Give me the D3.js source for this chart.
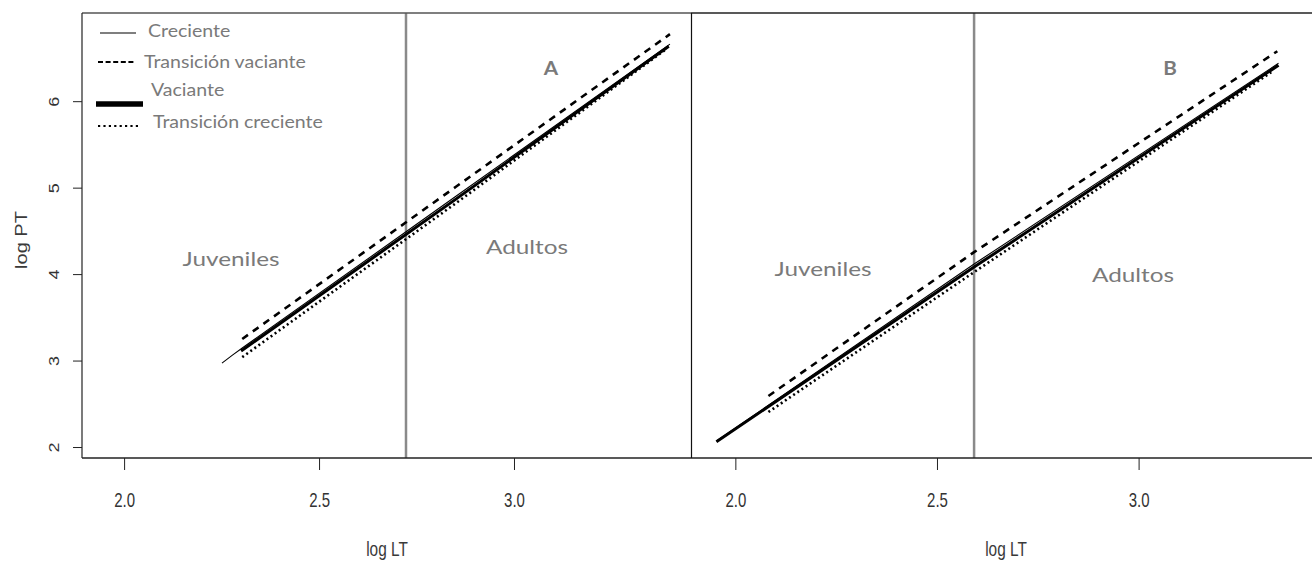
<!DOCTYPE html>
<html>
<head>
<meta charset="utf-8">
<script src="https://cdn.jsdelivr.net/npm/d3@7"></script>
<style>
  html, body { margin: 0; padding: 0; background: #fff; }
  svg { display: block; }
  .tick-lab { font-family: "Liberation Sans", Arial, sans-serif; font-size: 20px; fill: #333; }
  .ax-title { font-family: "Liberation Sans", Arial, sans-serif; font-size: 20px; fill: #3a3a3a; }
  .note { font-family: Lato, "Open Sans", sans-serif; fill: #7a7a7a; }
</style>
</head>
<body>
<svg id="chart" width="1312" height="561"></svg>
<script>
// Log length (LT) vs log weight (PT) regressions by moon phase, two samples (A, B)
const seriesNames = ["Creciente", "Transición vaciante", "Vaciante", "Transición creciente"];
const xTicks = [2.0, 2.5, 3.0];
const yTicks = [2, 3, 4, 5, 6];
const panelLabels = ["A", "B"];
const stageLabels = ["Juveniles", "Adultos"];
const stageBreak = [2.723, 2.592];   // log LT separating juveniles / adults

// Panel A: [log LT, log PT]
const aCreciente = [[2.251, 2.97], [2.277, 3.06], [2.303, 3.145], [2.723, 4.49], [2.851, 4.90], [3.400, 6.66]];
const aTransVac  = [[2.303, 3.25], [2.851, 5.01], [3.400, 6.775]];
const aVaciante  = [[2.300, 3.11], [2.851, 4.867], [3.397, 6.636]];
const aTransCre  = [[2.303, 3.04], [2.851, 4.82], [3.387, 6.59]];

// Panel B: [log LT, log PT]
const bCreciente = [[1.953, 2.07], [2.592, 4.116], [3.347, 6.439]];
const bTransVac  = [[2.082, 2.59], [2.592, 4.254], [3.344, 6.578]];
const bVaciante  = [[1.953, 2.06], [2.592, 4.081], [3.347, 6.416]];
const bTransCre  = [[2.082, 2.405], [2.592, 4.023], [3.329, 6.335]];

const svg = d3.select("#chart");

const plotTop = 13, plotBottom = 458;
const y = d3.scaleLinear().domain([1.873, 7.02]).range([plotBottom, plotTop]);
const xA = d3.scaleLinear().domain([1.892, 3.454]).range([82, 691]);
const xB = d3.scaleLinear().domain([1.89, 3.43]).range([691, 1312]);

const styles = [
  { width: 1.1, dash: null },
  { width: 2.6, dash: "7,6" },
  { width: 3.0, dash: null },
  { width: 2.6, dash: "2,3" }
];

// text placed at (x, y) and stretched horizontally by sx
function stretchedText(parent, x, yy, sx, txt, cls, size, anchor) {
  return parent.append("text").attr("class", cls)
    .attr("transform", `translate(${x},${yy}) scale(${sx},1)`)
    .attr("text-anchor", anchor || "start")
    .style("font-size", size + "px")
    .text(txt);
}

function drawPanel(x, data, brk, label, pos) {
  const g = svg.append("g");
  // stage boundary
  g.append("line")
    .attr("x1", x(brk)).attr("x2", x(brk))
    .attr("y1", plotTop).attr("y2", plotBottom)
    .attr("stroke", "#8a8a8a").attr("stroke-width", 2.5);

  const line = d3.line().x(d => x(d[0])).y(d => y(d[1]));
  data.forEach((s, i) => {
    g.append("path")
      .datum(s)
      .attr("d", line)
      .attr("fill", "none")
      .attr("stroke", "#000")
      .attr("stroke-width", styles[i].width)
      .attr("stroke-dasharray", styles[i].dash);
  });

  // x axis ticks and labels
  const ax = g.append("g").attr("transform", `translate(0,${plotBottom})`)
    .call(d3.axisBottom(x).tickValues(xTicks).tickFormat(d3.format(".1f")).tickSize(12).tickPadding(23));
  ax.select(".domain").remove();
  ax.attr("font-size", null).attr("font-family", null);
  ax.selectAll(".tick line").attr("stroke", "#222");
  ax.selectAll(".tick text").attr("class", "tick-lab").attr("fill", null)
    .attr("transform", "scale(0.75,1)");

  stretchedText(g, pos.title, 556, 0.77, "log LT", "ax-title", 20, "middle");

  stretchedText(g, pos.label[0], pos.label[1], 1.15, label, "note", 18, "middle")
    .style("font-weight", "bold");
  stretchedText(g, pos.juv[0], pos.juv[1], 1.28, stageLabels[0], "note", 19, "middle");
  stretchedText(g, pos.adu[0], pos.adu[1], 1.28, stageLabels[1], "note", 19, "middle");
}

drawPanel(xA, [aCreciente, aTransVac, aVaciante, aTransCre], stageBreak[0], panelLabels[0],
  { juv: [231, 266], adu: [527, 254], title: 387, label: [551, 75] });
drawPanel(xB, [bCreciente, bTransVac, bVaciante, bTransCre], stageBreak[1], panelLabels[1],
  { juv: [823, 276], adu: [1133, 282], title: 1006, label: [1170, 75] });

// frames
svg.append("line").attr("x1", 82).attr("x2", 1312).attr("y1", plotBottom).attr("y2", plotBottom)
  .attr("stroke", "#222").attr("stroke-width", 1.5);
svg.append("line").attr("x1", 82).attr("x2", 691).attr("y1", plotTop).attr("y2", plotTop)
  .attr("stroke", "#555").attr("stroke-width", 1.5);
svg.append("line").attr("x1", 691).attr("x2", 1312).attr("y1", plotTop).attr("y2", plotTop)
  .attr("stroke", "#222").attr("stroke-width", 1.5);
svg.append("line").attr("x1", 82).attr("x2", 82).attr("y1", plotTop).attr("y2", plotBottom)
  .attr("stroke", "#222").attr("stroke-width", 1.2);
svg.append("line").attr("x1", 691.5).attr("x2", 691.5).attr("y1", plotTop).attr("y2", plotBottom)
  .attr("stroke", "#111").attr("stroke-width", 1.2);

// y axis (labels rotated, parallel to the axis)
const yAx = svg.append("g").attr("transform", "translate(82,0)")
  .call(d3.axisLeft(y).tickValues(yTicks).tickFormat(d3.format("d")).tickSize(9).tickPadding(0));
yAx.select(".domain").remove();
yAx.selectAll(".tick line").attr("stroke", "#222");
yAx.selectAll(".tick text").remove();
yAx.attr("font-size", null).attr("font-family", null);
yAx.selectAll(".tick").append("text")
  .attr("class", "tick-lab")
  .style("font-size", "18px")
  .attr("transform", "translate(-28,0) rotate(-90) scale(1,0.85)")
  .attr("text-anchor", "middle")
  .attr("dy", "0.35em")
  .text(d => d);

svg.append("text").attr("class", "ax-title")
  .attr("transform", "translate(21,240) rotate(-90) scale(1,0.8)")
  .attr("text-anchor", "middle")
  .attr("dy", "0.35em")
  .text("log PT");

// legend
const legend = svg.append("g");
const legRows = [
  { x1: 100, x2: 136, ly: 33, tx: 148, ty: 37 },
  { x1: 98,  x2: 136, ly: 62, tx: 144, ty: 68 },
  { x1: 96,  x2: 143, ly: 104, tx: 151, ty: 96 },
  { x1: 98,  x2: 138, ly: 126, tx: 153, ty: 128 }
];
const legStyles = [
  { width: 1.1, dash: null },
  { width: 1.8, dash: "5,2.6" },
  { width: 5.5, dash: null },
  { width: 2.2, dash: "2.2,3.2" }
];
seriesNames.forEach((name, i) => {
  const r = legRows[i];
  legend.append("line")
    .attr("x1", r.x1).attr("x2", r.x2).attr("y1", r.ly).attr("y2", r.ly)
    .attr("stroke", "#000").attr("stroke-width", legStyles[i].width)
    .attr("stroke-dasharray", legStyles[i].dash);
  stretchedText(legend, r.tx, r.ty, 1.15, name, "note", 17);
});
</script>
</body>
</html>
